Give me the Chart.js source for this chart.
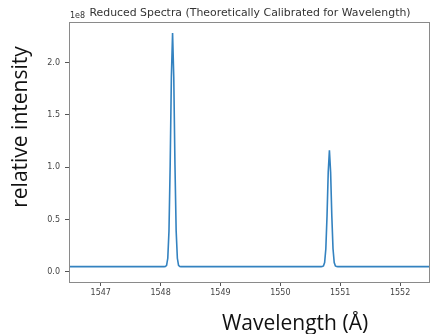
<!DOCTYPE html>
<html>
<head>
<meta charset="utf-8">
<script src="https://cdn.jsdelivr.net/npm/chart.js@4.4.0/dist/chart.umd.min.js"></script>
<style>
html,body{margin:0;padding:0;background:#fff;}
#wrap{width:430px;height:334px;position:relative;}
</style>
</head>
<body>
<div id="wrap"><canvas id="c" width="430" height="334"></canvas></div>
<script>
// Wavelength samples (Å)
const wavelengths = [
  1546.40, 1547.00, 1547.50, 1548.00, 1548.06,
  1548.08, 1548.10, 1548.12, 1548.14, 1548.16, 1548.18, 1548.20, 1548.22, 1548.24, 1548.26, 1548.28, 1548.30, 1548.32,
  1548.34, 1548.50, 1549.00, 1549.50, 1550.00, 1550.50, 1550.68,
  1550.70, 1550.72, 1550.74, 1550.76, 1550.78, 1550.80, 1550.82, 1550.84, 1550.86, 1550.88, 1550.90, 1550.92, 1550.94,
  1550.96, 1551.50, 1552.00, 1552.60
];
// Relative intensity in units of 1e8
const intensity = [
  0.048, 0.048, 0.048, 0.048, 0.048,
  0.049, 0.060, 0.128, 0.390, 1.021, 1.864, 2.285, 1.864, 1.021, 0.390, 0.128, 0.060, 0.049,
  0.048, 0.048, 0.048, 0.048, 0.048, 0.048, 0.048,
  0.049, 0.054, 0.088, 0.219, 0.533, 0.953, 1.163, 0.953, 0.533, 0.219, 0.088, 0.054, 0.049,
  0.048, 0.048, 0.048, 0.048
];
const xTicks = [1547, 1548, 1549, 1550, 1551, 1552];
const yTicks = [0.0, 0.5, 1.0, 1.5, 2.0];
const titleText = 'Reduced Spectra (Theoretically Calibrated for Wavelength)';
const offsetText = '1e8';
const xTitle = 'Wavelength (Å)';
const yTitle = 'relative intensity';

const points = wavelengths.map((w, i) => ({x: w, y: intensity[i]}));

const decor = {
  id: 'decor',
  afterDraw(chart) {
    const ctx = chart.ctx;
    const a = chart.chartArea;
    ctx.save();
    ctx.strokeStyle = '#8a8a8a';
    ctx.lineWidth = 1;
    ctx.strokeRect(a.left + 0.5, a.top + 0.5, a.right - a.left - 1, a.bottom - a.top);
    // title
    ctx.fillStyle = '#333';
    ctx.font = '10.9px "DejaVu Sans"';
    ctx.textAlign = 'center';
    ctx.textBaseline = 'alphabetic';
    ctx.fillText(titleText, 250, 16);
    ctx.font = '8px "DejaVu Sans"';
    ctx.textAlign = 'left';
    ctx.fillText(offsetText, 70, 18);
    // axis titles
    ctx.fillStyle = '#111';
    ctx.font = '21px "Open Sans"';
    ctx.textAlign = 'center';
    ctx.fillText(xTitle, 295, 330);
    ctx.translate(27, 127);
    ctx.rotate(-Math.PI / 2);
    ctx.fillText(yTitle, 0, 0);
    ctx.restore();
  }
};

new Chart(document.getElementById('c'), {
  type: 'line',
  data: {
    datasets: [{
      data: points,
      borderColor: '#3382c0',
      borderWidth: 1.6,
      pointRadius: 0,
      tension: 0,
      fill: false
    }]
  },
  options: {
    responsive: false,
    animation: false,
    events: [],
    layout: {padding: {top: 22, left: 0, right: 0, bottom: 0}},
    plugins: {legend: {display: false}, tooltip: {enabled: false}, title: {display: false}},
    scales: {
      x: {
        type: 'linear',
        min: 1546.47,
        max: 1552.5,
        afterBuildTicks: s => { s.ticks = xTicks.map(v => ({value: v})); },
        afterFit: s => { s.height = 52; },
        grid: {drawOnChartArea: false, drawTicks: true, tickLength: 4, tickColor: '#555'},
        border: {display: false},
        ticks: {color: '#444', font: {family: 'DejaVu Sans', size: 8}, padding: 2, maxRotation: 0,
                callback: v => String(v)}
      },
      y: {
        type: 'linear',
        min: -0.099,
        max: 2.39,
        afterBuildTicks: s => { s.ticks = yTicks.map(v => ({value: v})); },
        afterFit: s => { s.width = 69; },
        grid: {drawOnChartArea: false, drawTicks: true, tickLength: 4, tickColor: '#555'},
        border: {display: false},
        ticks: {color: '#444', font: {family: 'DejaVu Sans', size: 8}, padding: 5,
                callback: v => Number(v).toFixed(1)}
      }
    }
  },
  plugins: [decor]
});
</script>
</body>
</html>
